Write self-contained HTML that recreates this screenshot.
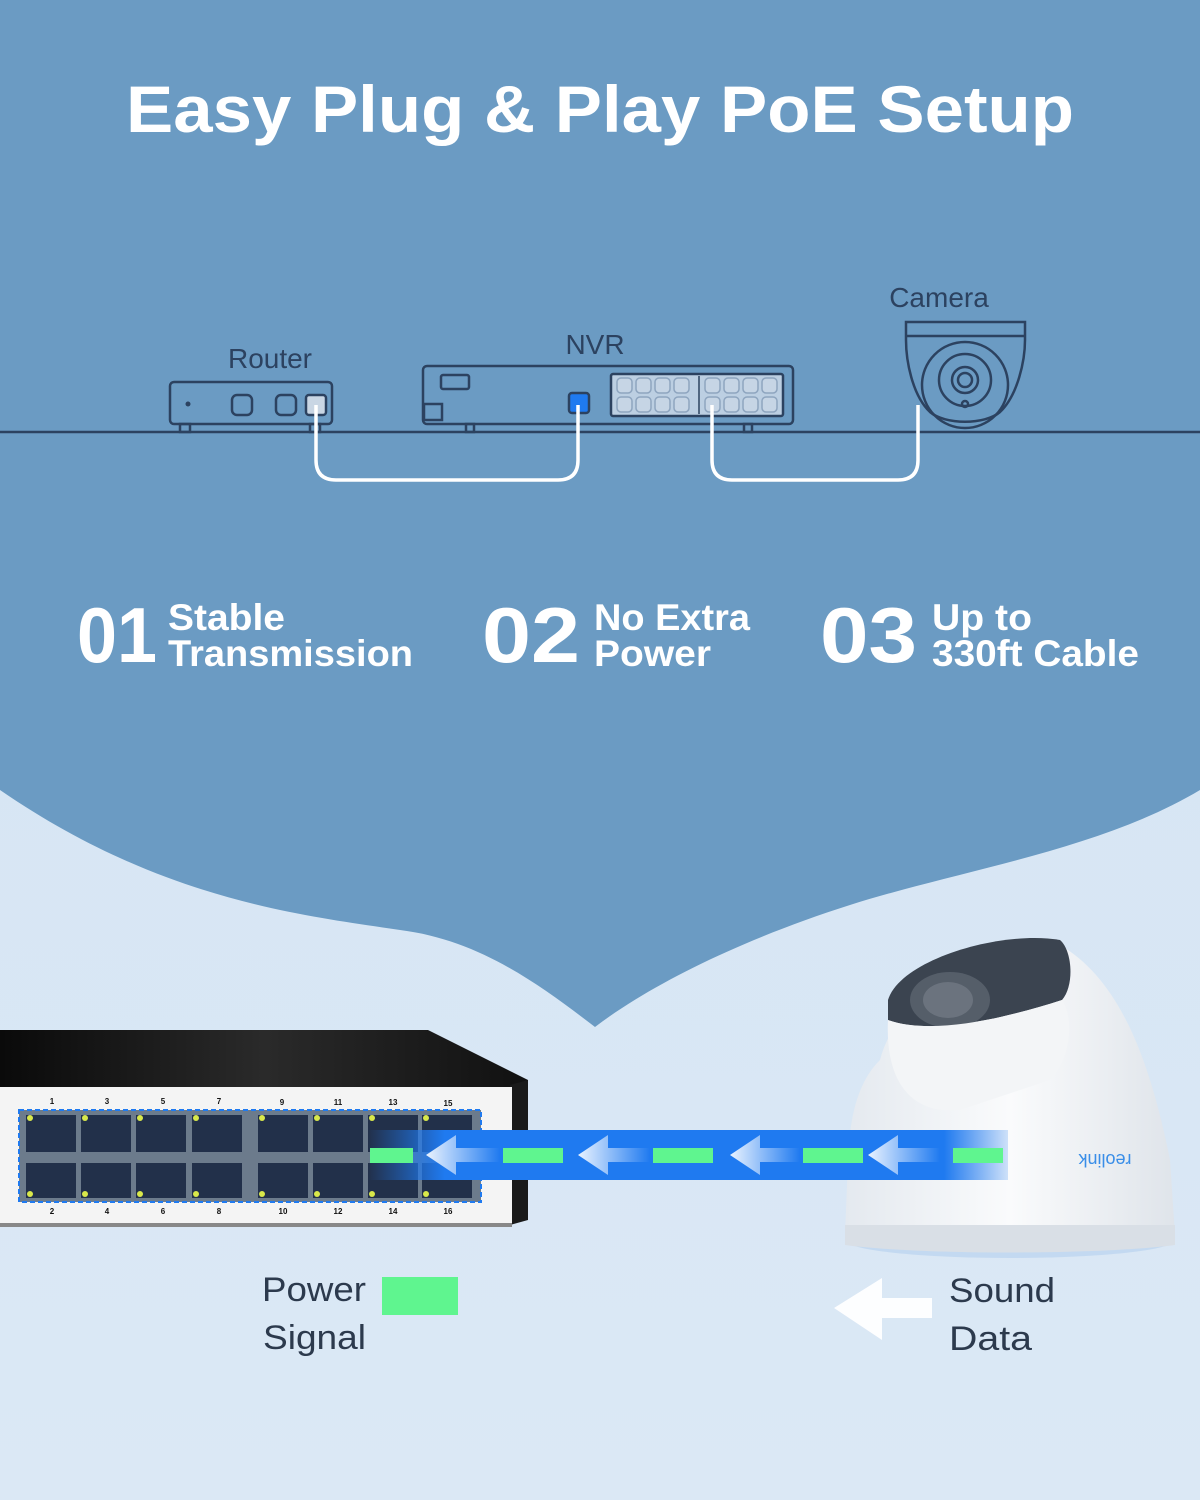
<!DOCTYPE html>
<html><head><meta charset="utf-8"><style>
html,body{margin:0;padding:0;width:1200px;height:1500px;overflow:hidden;background:#d6e6f5}
svg{display:block}
</style></head><body>
<svg width="1200" height="1500" viewBox="0 0 1200 1500" xmlns="http://www.w3.org/2000/svg" font-family="Liberation Sans, sans-serif">
<defs>
<linearGradient id="bg2" x1="0" y1="0" x2="0" y2="1"><stop offset="0" stop-color="#d3e4f4"/><stop offset="1" stop-color="#dbe8f5"/></linearGradient>
<linearGradient id="top" x1="0" y1="0" x2="1" y2="0"><stop offset="0" stop-color="#0a0a0a"/><stop offset="0.5" stop-color="#2a2a2a"/><stop offset="1" stop-color="#111"/></linearGradient>
<linearGradient id="fade" x1="0" y1="0" x2="1" y2="0"><stop offset="0" stop-color="#1f7af0" stop-opacity="0"/><stop offset="0.12" stop-color="#1f7af0"/><stop offset="0.9" stop-color="#1f7af0"/><stop offset="1" stop-color="#1f7af0" stop-opacity="0.2"/></linearGradient>
<linearGradient id="arw" x1="0" y1="0" x2="1" y2="0"><stop offset="0" stop-color="#eaf3ff"/><stop offset="1" stop-color="#eaf3ff" stop-opacity="0"/></linearGradient>
<linearGradient id="cam" x1="0" y1="0" x2="1" y2="0"><stop offset="0" stop-color="#e4e9ef"/><stop offset="0.5" stop-color="#fafbfc"/><stop offset="1" stop-color="#dfe4ea"/></linearGradient>
</defs>
<rect width="1200" height="1500" fill="url(#bg2)"/>
<path d="M0 0H1200V790C1100 850 960 870 850 905C740 940 650 985 595 1027C540 985 480 940 400 930C300 915 160 900 0 790Z" fill="#6b9bc3"/>
<text x="600" y="132" text-anchor="middle" font-size="66" font-weight="bold" fill="#fff" textLength="948" lengthAdjust="spacingAndGlyphs">Easy Plug &amp; Play PoE Setup</text>

<g fill="none" stroke="#2c4260" stroke-width="2.5">
<line x1="0" y1="432" x2="1200" y2="432"/>
<rect x="170" y="382" width="162" height="42" rx="4"/>
<rect x="232" y="395" width="20" height="20" rx="5"/>
<rect x="276" y="395" width="20" height="20" rx="5"/>
<rect x="180" y="424" width="10" height="8"/><rect x="310" y="424" width="10" height="8"/>
<rect x="423" y="366" width="370" height="58" rx="4"/>
<rect x="441" y="375" width="28" height="14" rx="2"/>
<rect x="424" y="404" width="18" height="16"/>
<rect x="466" y="424" width="8" height="8"/><rect x="744" y="424" width="8" height="8"/>
</g>
<circle cx="188" cy="404" r="2.5" fill="#2c4260"/>
<rect x="306" y="395" width="20" height="20" rx="3" fill="#c9d6e4" stroke="#2c4260" stroke-width="2.5"/>
<rect x="569" y="393" width="20" height="20" rx="3" fill="#1f7af0" stroke="#2c4260" stroke-width="2.5"/>
<rect x="611" y="374" width="172" height="42" rx="2" fill="#bccfe2" stroke="#2c4260" stroke-width="2.5"/>
<line x1="699" y1="376" x2="699" y2="414" stroke="#2c4260" stroke-width="1.5"/>
<g fill="#c6d5e5" stroke="#8ea5bf" stroke-width="1.5">
<rect x="617" y="378" width="15" height="15" rx="4"/><rect x="636" y="378" width="15" height="15" rx="4"/><rect x="655" y="378" width="15" height="15" rx="4"/><rect x="674" y="378" width="15" height="15" rx="4"/>
<rect x="617" y="397" width="15" height="15" rx="4"/><rect x="636" y="397" width="15" height="15" rx="4"/><rect x="655" y="397" width="15" height="15" rx="4"/><rect x="674" y="397" width="15" height="15" rx="4"/>
<rect x="705" y="378" width="15" height="15" rx="4"/><rect x="724" y="378" width="15" height="15" rx="4"/><rect x="743" y="378" width="15" height="15" rx="4"/><rect x="762" y="378" width="15" height="15" rx="4"/>
<rect x="705" y="397" width="15" height="15" rx="4"/><rect x="724" y="397" width="15" height="15" rx="4"/><rect x="743" y="397" width="15" height="15" rx="4"/><rect x="762" y="397" width="15" height="15" rx="4"/>
</g>
<g fill="none" stroke="#2c4260" stroke-width="2.5">
<path d="M906 322H1025V340C1025 360 1018 395 1000 412C985 425 945 425 930 412C912 395 906 360 906 340Z"/>
<line x1="906" y1="336" x2="1025" y2="336"/>
<circle cx="965" cy="385" r="43"/>
<circle cx="965" cy="380" r="26"/>
<circle cx="965" cy="380" r="13"/>
<circle cx="965" cy="380" r="7"/>
<circle cx="965" cy="404" r="3"/>
</g>
<g fill="none" stroke="#fff" stroke-width="3.5">
<path d="M316 405V460Q316 480 336 480H558Q578 480 578 460V405"/>
<path d="M712 405V460Q712 480 732 480H898Q918 480 918 460V405"/>
</g>
<g fill="#2c4260" font-size="28">
<text x="270" y="368" text-anchor="middle">Router</text>
<text x="595" y="354" text-anchor="middle">NVR</text>
<text x="939" y="307" text-anchor="middle">Camera</text>
</g>

<g fill="#fff" font-weight="600">
<text x="77" y="662" font-size="78" textLength="80" lengthAdjust="spacingAndGlyphs">01</text>
<text x="168" y="630" font-size="37" textLength="117" lengthAdjust="spacingAndGlyphs">Stable</text>
<text x="168" y="666" font-size="37" textLength="245" lengthAdjust="spacingAndGlyphs">Transmission</text>
<text x="482" y="662" font-size="78" textLength="98" lengthAdjust="spacingAndGlyphs">02</text>
<text x="594" y="630" font-size="37" textLength="156" lengthAdjust="spacingAndGlyphs">No Extra</text>
<text x="594" y="666" font-size="37" textLength="117" lengthAdjust="spacingAndGlyphs">Power</text>
<text x="820" y="662" font-size="78" textLength="97" lengthAdjust="spacingAndGlyphs">03</text>
<text x="932" y="630" font-size="37" textLength="100" lengthAdjust="spacingAndGlyphs">Up to</text>
<text x="932" y="666" font-size="37" textLength="207" lengthAdjust="spacingAndGlyphs">330ft Cable</text>
</g>

<!-- switch -->
<path d="M0 1030H428L528 1080V1090H0Z" fill="url(#top)"/>
<path d="M510 1085L528 1080V1220L510 1225Z" fill="#1a1a1a"/>
<rect x="0" y="1087" width="512" height="138" fill="#f4f4f4"/>
<rect x="0" y="1223" width="512" height="4" fill="#888"/>
<rect x="19" y="1110" width="462" height="92" fill="#6c7b8c" stroke="#1f7af0" stroke-width="2" stroke-dasharray="5 3"/>
<g fill="#22304a">
<rect x="26" y="1115" width="50" height="37"/><rect x="81" y="1115" width="50" height="37"/><rect x="136" y="1115" width="50" height="37"/><rect x="192" y="1115" width="50" height="37"/>
<rect x="258" y="1115" width="50" height="37"/><rect x="313" y="1115" width="50" height="37"/><rect x="368" y="1115" width="50" height="37"/><rect x="422" y="1115" width="50" height="37"/>
<rect x="26" y="1163" width="50" height="35"/><rect x="81" y="1163" width="50" height="35"/><rect x="136" y="1163" width="50" height="35"/><rect x="192" y="1163" width="50" height="35"/>
<rect x="258" y="1163" width="50" height="35"/><rect x="313" y="1163" width="50" height="35"/><rect x="368" y="1163" width="50" height="35"/><rect x="422" y="1163" width="50" height="35"/>
</g>
<g fill="#d9e84a">
<circle cx="30" cy="1118" r="3"/><circle cx="85" cy="1118" r="3"/><circle cx="140" cy="1118" r="3"/><circle cx="196" cy="1118" r="3"/><circle cx="262" cy="1118" r="3"/><circle cx="317" cy="1118" r="3"/><circle cx="372" cy="1118" r="3"/><circle cx="426" cy="1118" r="3"/>
<circle cx="30" cy="1194" r="3"/><circle cx="85" cy="1194" r="3"/><circle cx="140" cy="1194" r="3"/><circle cx="196" cy="1194" r="3"/><circle cx="262" cy="1194" r="3"/><circle cx="317" cy="1194" r="3"/><circle cx="372" cy="1194" r="3"/><circle cx="426" cy="1194" r="3"/>
</g>
<g font-size="8" font-weight="bold" fill="#111" text-anchor="middle">
<text x="52" y="1104">1</text><text x="107" y="1104">3</text><text x="163" y="1104">5</text><text x="219" y="1104">7</text><text x="282" y="1105">9</text><text x="338" y="1105">11</text><text x="393" y="1105">13</text><text x="448" y="1106">15</text>
<text x="52" y="1214">2</text><text x="107" y="1214">4</text><text x="163" y="1214">6</text><text x="219" y="1214">8</text><text x="283" y="1214">10</text><text x="338" y="1214">12</text><text x="393" y="1214">14</text><text x="448" y="1214">16</text>
</g>

<!-- camera -->
<ellipse cx="1010" cy="1240" rx="165" ry="18" fill="#b9d3f0" opacity="0.7"/>
<path d="M880 1060C900 980 1020 930 1060 945C1120 980 1150 1060 1170 1160L1175 1235H845L848 1160C850 1110 860 1080 880 1060Z" fill="url(#cam)"/>
<path d="M845 1225H1175V1245C1100 1255 920 1255 845 1245Z" fill="#d9dfe6"/>
<path d="M888 1000C900 960 1000 930 1060 940C1072 950 1075 985 1062 1000C1000 1020 930 1035 888 1020Z" fill="#3b4450"/>
<ellipse cx="950" cy="1000" rx="40" ry="28" fill="#555e69"/>
<ellipse cx="948" cy="1000" rx="25" ry="18" fill="#6b737e"/>
<path d="M888 1020C930 1035 1000 1020 1062 1000C1075 1020 1070 1060 1050 1080L960 1110C910 1115 885 1080 888 1020Z" fill="#f3f5f7"/>
<text x="1105" y="1166" font-size="18" fill="#3a8ee8" text-anchor="middle" transform="rotate(180 1105 1160)">reolink</text>

<!-- flow bar -->
<rect x="368" y="1130" width="640" height="50" fill="url(#fade)"/>
<g fill="#5ff58f">
<rect x="370" y="1148" width="43" height="15"/><rect x="503" y="1148" width="60" height="15"/><rect x="653" y="1148" width="60" height="15"/><rect x="803" y="1148" width="60" height="15"/><rect x="953" y="1148" width="50" height="15"/>
</g>
<g fill="url(#arw)">
<path d="M426 1155L456 1135V1148H500V1162H456V1175Z"/>
<path d="M578 1155L608 1135V1148H650V1162H608V1175Z"/>
<path d="M730 1155L760 1135V1148H800V1162H760V1175Z"/>
<path d="M868 1155L898 1135V1148H940V1162H898V1175Z"/>
</g>

<!-- legend -->
<g font-size="34" fill="#2c3a4d">
<text x="262" y="1301" textLength="104" lengthAdjust="spacingAndGlyphs">Power</text>
<text x="263" y="1349" textLength="103" lengthAdjust="spacingAndGlyphs">Signal</text>
<text x="949" y="1302" textLength="106" lengthAdjust="spacingAndGlyphs">Sound</text>
<text x="949" y="1350" textLength="83" lengthAdjust="spacingAndGlyphs">Data</text>
</g>
<rect x="382" y="1277" width="76" height="38" fill="#5ff58f"/>
<path d="M834 1308L882 1278V1298H932V1318H882V1340Z" fill="#fff" opacity="0.95"/>
</svg>
</body></html>
